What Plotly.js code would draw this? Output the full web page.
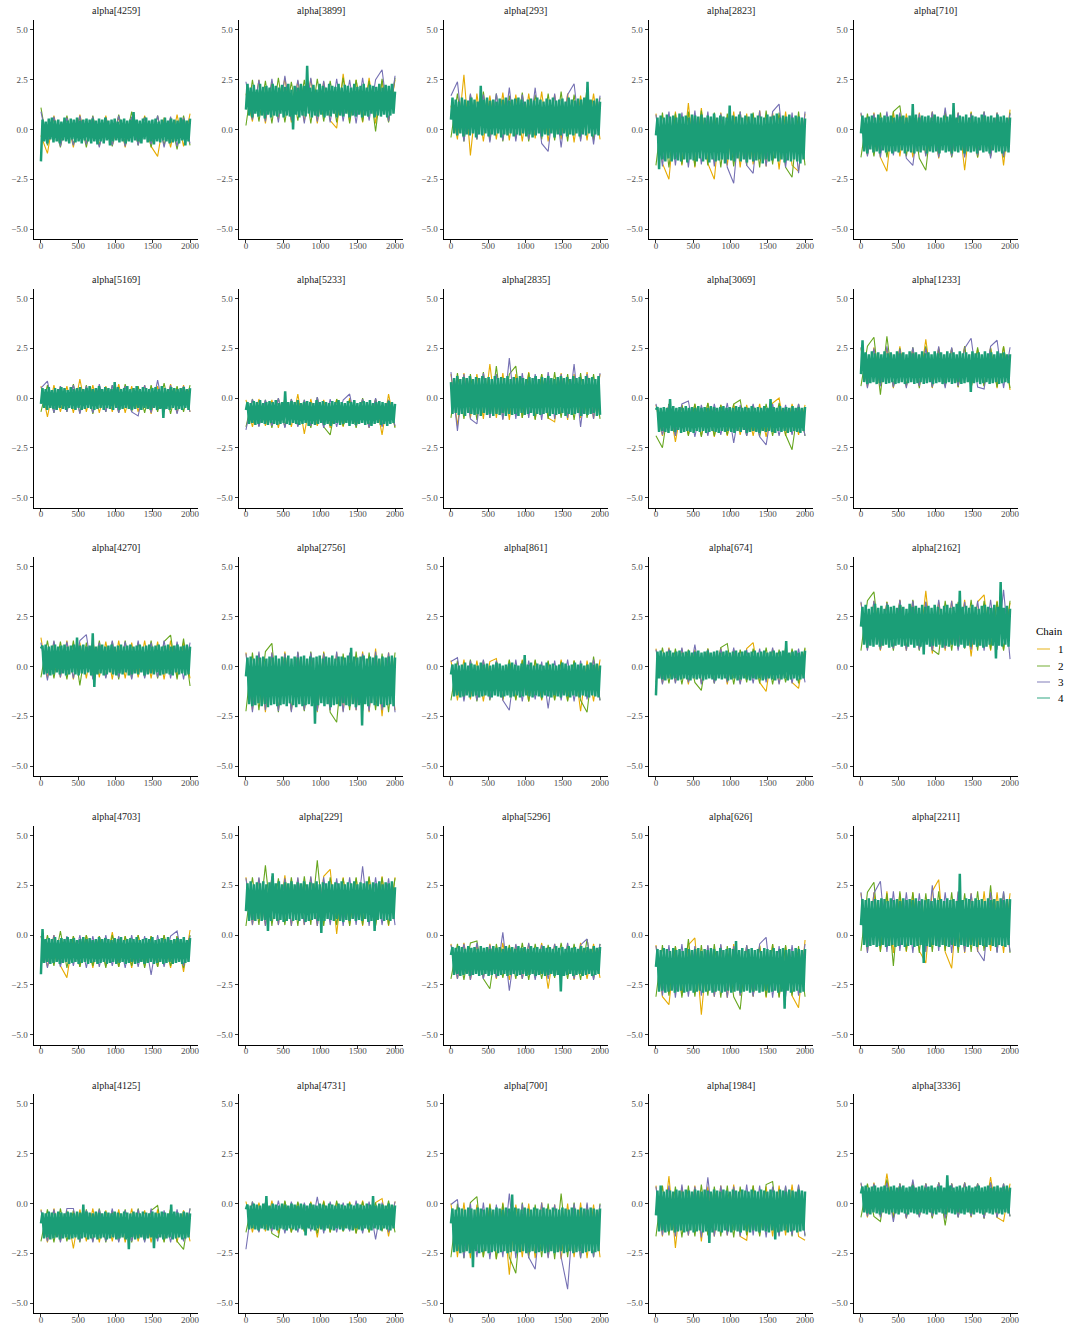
<!DOCTYPE html>
<html>
<head>
<meta charset="utf-8">
<script src="https://cdn.plot.ly/plotly-3.0.1.min.js"></script>
<style>
  html, body { margin: 0; padding: 0; background: #ffffff; }
  #chart { width: 1071px; height: 1325px; }
</style>
</head>
<body>
<div id="chart"></div>
<script>
// Trace plots of 25 alpha parameters, 4 chains of 2000 post-warmup iterations each.
const iterMax = 2000;
const chainLabels = ['1', '2', '3', '4'];
const chainColors = ['#E6AB02', '#66A61E', '#7570B3', '#1B9E77'];
const xTicks = [0, 500, 1000, 1500, 2000];
const yTicks = [-5, -2.5, 0, 2.5, 5];
const yTickText = ['\u22125.0', '\u22122.5', '0.0', '2.5', '5.0'];

const panelTitles = [
  'alpha[4259]', 'alpha[3899]', 'alpha[293]', 'alpha[2823]', 'alpha[710]',
  'alpha[5169]', 'alpha[5233]', 'alpha[2835]', 'alpha[3069]', 'alpha[1233]',
  'alpha[4270]', 'alpha[2756]', 'alpha[861]', 'alpha[674]', 'alpha[2162]',
  'alpha[4703]', 'alpha[229]', 'alpha[5296]', 'alpha[626]', 'alpha[2211]',
  'alpha[4125]', 'alpha[4731]', 'alpha[700]', 'alpha[1984]', 'alpha[3336]'
];

// Chain 1 draws, thinned, one row per panel
const chain1 = [
  [-0.3,-1.2,0.7,-0.8,0.6,-0.9,0.75,-0.7,0.6,-0.85,0.7,-0.8,0.65,-0.9,0.6,-0.75,0.7,-0.85,-1.35,0.6,-0.9,0.75,-0.85,0.8],
  [1.8,0.4,2.5,0.3,2.4,0.5,2.6,0.35,2.45,0.4,2.55,0.3,2.4,0.45,0.07,2.8,0.4,2.5,0.35,2.6,0.3,2.45,0.4,2.5],
  [1.2,-0.5,2.75,-1.3,1.8,-0.6,1.7,-0.5,1.85,-0.55,1.75,-0.6,1.8,-0.45,1.9,-0.6,1.75,-0.5,1.8,-0.65,1.7,-0.55,1.8,-0.5],
  [0.8,-1.7,-2.5,0.9,-1.8,1.33,-1.9,1.08,-1.7,-2.5,0.85,-1.8,0.9,-1.9,0.8,-1.75,0.95,-1.85,0.85,-2.0,0.9,-1.8,-2.1,0.8],
  [0.8,-1.3,0.85,-1.4,-2.1,0.9,-1.35,0.8,-1.4,0.85,-1.3,0.9,-1.45,0.8,-1.35,0.85,-2.05,0.9,-1.4,0.8,-1.35,0.85,-1.8,1.0],
  [0.6,-0.95,0.65,-0.7,0.6,-0.75,0.95,-0.7,0.65,-0.75,0.6,-0.7,0.7,-0.75,0.6,-0.7,0.65,-0.8,0.6,-0.7,0.7,-0.75,0.65,-0.7],
  [-0.1,-1.45,-0.05,-1.4,-0.1,-1.5,0.0,-1.45,0.2,-1.8,-0.05,-1.4,-0.1,-1.5,-0.05,-1.45,0.0,-1.4,-0.1,-1.5,-0.05,-1.85,0.2,-1.45],
  [1.2,-1.4,1.25,-1.0,1.2,-1.05,1.7,-1.0,1.25,-1.1,1.2,-1.0,1.3,-1.05,1.2,-1.0,-1.2,1.25,-1.1,1.2,-1.0,1.3,-1.05,1.2],
  [-0.35,-1.9,-0.3,-2.2,-0.35,-1.85,-0.3,-1.9,-0.25,-1.95,-0.35,-1.9,-0.3,-1.85,-0.35,-1.9,-0.3,-1.95,-0.25,0.0,-1.9,-0.3,-1.85,-0.35],
  [2.5,0.55,2.55,0.6,2.5,0.5,2.6,0.55,2.45,0.6,2.95,0.5,2.55,0.6,2.5,0.55,2.6,0.5,2.45,0.6,2.55,0.5,2.6,0.4],
  [1.45,-0.6,1.25,-0.55,1.3,-0.65,1.2,-0.6,1.3,-0.55,1.25,-0.65,1.3,-0.6,1.2,-0.55,1.3,-0.6,1.25,-0.65,1.3,-0.55,1.2,-0.6],
  [0.7,-2.2,0.65,-2.3,0.7,-2.15,0.75,-2.25,0.7,-2.2,0.65,-2.3,0.75,-2.2,0.7,-2.25,0.65,-2.2,0.75,-2.3,0.9,-2.5,0.7,-2.2],
  [0.3,-1.7,0.35,-1.65,0.3,-1.75,0.25,0.4,-1.7,0.3,-1.65,0.35,-1.75,0.3,-1.7,0.25,-1.65,0.35,-1.7,0.3,-2.25,0.3,-1.75,0.35],
  [0.9,-0.85,0.95,-0.8,0.9,-0.9,0.85,-0.85,0.9,-0.8,0.95,-0.9,0.85,-0.85,0.9,1.2,-0.8,-1.25,0.9,-0.85,0.95,-0.8,-1.1,0.9],
  [3.2,0.85,3.3,0.8,3.25,0.9,3.35,0.8,3.3,0.85,3.8,0.65,3.25,0.8,3.3,0.9,3.35,0.5,3.25,3.6,0.8,3.3,0.85,3.2],
  [-0.05,-1.6,0.0,-1.55,-2.14,-0.05,-1.6,0.0,-1.65,-0.05,-1.55,0.15,-1.6,-0.05,-1.65,0.0,-1.55,-0.05,-1.6,0.0,-1.65,-0.05,-1.85,0.25],
  [2.9,0.5,2.85,0.45,2.9,0.5,3.0,0.45,2.85,0.5,2.9,0.45,2.95,3.3,0.05,2.9,0.5,2.85,0.45,2.9,0.5,2.95,0.45,2.9],
  [-0.45,-2.2,-0.4,-2.25,-0.5,-2.15,-0.45,-2.2,-0.4,-2.25,-0.5,-2.2,-0.45,-2.15,-0.4,-2.7,-0.45,-2.2,-0.5,-2.25,-0.4,-2.2,-0.45,-2.15],
  [-0.5,-3.1,-3.5,-0.55,-3.05,-0.5,-0.15,-4.0,-0.55,-3.1,-0.5,-3.15,-0.45,-3.05,-0.55,-3.1,-0.5,-3.15,-0.45,-3.1,-0.55,-3.05,-3.65,-0.25],
  [2.1,-0.85,2.15,-0.8,2.2,-0.9,2.1,-0.85,2.15,-0.8,-1.4,2.2,2.78,-0.85,-1.67,2.15,-0.9,2.1,-0.85,2.2,-0.8,2.15,-0.9,2.1],
  [-0.3,-1.95,-0.25,-1.9,-0.35,-2.26,-0.3,-1.9,-0.25,-1.95,-0.35,-1.9,-0.3,-1.95,-0.25,-1.9,-0.35,-1.95,-0.3,-1.9,-0.25,-1.95,-0.35,-1.9],
  [0.1,-1.45,0.05,-1.4,0.15,-1.5,0.1,-1.45,0.05,-1.4,0.1,-1.7,0.15,-1.45,0.05,-1.4,0.1,-1.5,0.15,-1.45,0.05,0.25,-1.65,0.1],
  [0.0,-2.7,0.05,-2.75,-0.05,-2.7,0.0,-2.8,0.05,-3.57,-0.05,-2.7,0.0,-2.75,0.05,-2.7,-0.05,-2.8,0.0,-2.7,0.05,-2.75,-0.05,-2.7],
  [0.9,-1.65,1.38,-2.23,0.85,-1.6,0.9,-1.9,0.85,-1.65,0.9,-1.6,0.95,-1.65,-1.85,0.9,-1.6,0.85,-1.65,0.9,-1.6,0.95,-1.65,-1.85],
  [1.0,-0.7,1.05,-0.65,1.5,-0.7,1.0,-0.75,1.05,-0.65,1.0,-0.7,1.05,-0.75,1.0,-0.65,1.05,-0.7,1.0,-0.75,1.33,-0.7,-0.9,1.0]
];

// Chain 2 draws
const chain2 = [
  [1.1,-0.8,0.6,-0.9,0.7,-0.75,0.65,-0.9,0.7,-0.8,0.6,-0.85,0.75,-0.7,0.9,-0.8,0.65,-0.9,0.7,-0.8,0.6,-1.0,0.7,-0.8],
  [0.2,2.5,0.4,2.45,0.3,2.6,0.35,2.4,0.45,2.5,0.3,2.55,0.4,2.45,0.35,2.6,0.3,2.5,0.4,2.45,-0.1,2.55,0.35,2.6],
  [-0.4,1.8,-0.6,1.75,-0.5,1.9,-0.55,1.8,-0.6,1.7,-0.45,1.85,-0.6,1.75,-0.5,1.8,-0.55,1.9,-0.6,1.75,-0.5,2.1,-0.55,1.6],
  [-1.8,0.85,-1.9,0.8,-1.75,0.9,-1.85,0.95,-1.8,0.85,-1.9,0.8,-1.85,0.9,-1.8,0.85,-1.9,0.95,-1.75,0.85,-1.9,-2.4,0.9,-1.8],
  [-1.4,0.8,-1.35,0.85,-1.4,0.9,1.2,-1.35,0.8,-1.45,-2.05,0.85,-1.35,0.9,-1.4,0.8,-1.3,0.85,-1.4,0.9,-1.35,0.8,-1.4,0.85],
  [-0.7,0.65,-0.75,0.6,-0.7,0.7,-0.75,0.65,-0.8,0.6,-0.7,0.65,-0.75,0.7,-0.7,0.6,-0.75,0.65,-0.7,0.75,-0.8,0.6,-0.7,0.65],
  [-1.45,-0.05,-1.4,-0.1,-1.5,0.0,-1.45,-0.05,-1.4,-0.1,-1.5,0.05,-1.45,-1.85,-0.05,-1.4,-0.1,-1.5,0.0,-1.45,-0.05,-1.4,-0.1,-1.5],
  [-1.0,1.25,-1.05,1.2,-1.1,1.3,-1.0,1.6,-1.05,1.2,1.6,-1.0,1.25,-1.1,1.2,-1.05,1.3,-1.0,1.2,-1.1,1.25,-1.0,1.2,-1.05],
  [-1.9,-2.5,-0.3,-1.85,-0.35,-1.9,-0.3,-1.95,-0.25,-1.9,-0.35,-1.85,-0.3,-0.1,-1.9,-0.35,-1.95,-0.3,-1.9,-0.25,-1.85,-2.6,-0.3,-1.9],
  [0.6,2.6,3.05,0.17,3.1,0.55,2.5,0.6,2.55,0.5,2.6,0.55,2.45,0.6,2.5,0.55,2.6,0.5,2.55,0.6,2.5,0.55,2.6,0.5],
  [-0.55,1.3,-0.6,1.25,-0.65,1.3,-0.95,1.2,-0.6,1.3,-0.55,1.25,-0.65,1.3,-0.6,1.2,-0.55,1.3,-0.6,1.25,1.58,-0.65,1.4,-0.98],
  [-2.25,0.7,-2.2,0.75,1.16,-2.3,0.65,-2.2,0.7,-2.25,0.75,-2.2,0.7,-2.3,-2.8,0.65,-2.2,0.75,-2.25,0.7,-2.2,0.65,-2.3,0.7],
  [-1.7,0.3,-1.65,0.35,-1.75,0.3,-1.7,0.25,-1.65,0.35,-1.7,0.3,-1.75,0.35,-1.65,0.3,-1.7,0.25,-1.75,0.3,-1.7,-2.3,0.5,-1.7],
  [-0.8,0.95,-0.85,0.9,-0.9,0.85,-0.8,-1.2,0.9,-0.85,0.95,1.15,-0.9,0.85,-0.8,0.9,-0.85,0.95,-0.9,0.85,-0.8,0.9,-0.85,0.95],
  [0.8,3.3,3.75,0.85,3.25,0.8,3.3,0.9,3.35,0.8,3.25,0.85,0.6,3.3,0.8,3.25,0.9,3.35,0.8,3.3,0.85,3.25,0.8,3.3],
  [-1.6,0.0,-1.55,0.2,-1.65,-0.05,-1.6,0.0,-1.55,-0.05,-1.65,0.0,-1.6,-0.05,-1.55,0.0,-1.65,-0.05,-1.6,0.0,-1.55,-0.05,-1.65,0.0],
  [0.45,2.9,0.5,3.5,0.45,2.85,0.5,2.9,0.45,2.95,0.5,3.75,0.45,2.9,0.5,2.85,0.45,2.9,0.5,2.95,0.45,2.9,0.5,2.85],
  [-2.2,-0.45,-2.25,-0.4,-0.3,-2.2,-2.7,-0.45,-2.15,-0.5,-2.2,-0.4,-2.25,-0.45,-2.2,-0.5,-2.15,-0.4,-2.2,-0.45,-2.25,-0.2,-2.2,-0.45],
  [-3.1,-0.5,-3.05,-0.55,-3.15,-0.2,-3.1,-0.5,-3.05,-0.45,-3.15,-0.55,-3.1,-3.74,-0.5,-3.05,-0.55,-3.1,-0.45,-3.15,-0.5,-3.05,-0.55,-3.1],
  [-0.8,2.15,2.65,-0.85,2.1,-1.55,2.2,-0.8,2.15,-0.9,2.1,-0.85,2.2,-0.8,2.15,-0.9,2.1,-0.85,2.2,-0.8,2.5,-0.85,2.15,-0.9],
  [-1.9,-0.3,-1.95,-0.25,-1.9,-0.35,-1.95,-0.3,-1.9,-0.25,-1.95,-0.35,-1.9,-0.3,-1.95,-0.25,-1.9,-0.35,-0.1,-1.95,-0.3,-1.9,-2.3,-0.25],
  [-1.45,0.1,-1.4,0.05,-1.5,-1.7,0.15,-1.45,0.1,-1.4,0.05,-1.5,0.1,-1.45,0.15,-1.4,0.05,-1.5,0.1,-1.45,0.05,-1.4,0.15,-1.45],
  [-2.7,0.0,-2.75,0.05,0.35,-2.7,-0.05,-2.8,0.0,-2.7,-3.5,0.05,-2.75,-0.05,-2.7,0.0,-2.8,0.5,-2.7,0.05,-2.75,-0.05,-2.7,0.0],
  [-1.65,0.9,-1.6,0.85,-1.7,0.9,-1.65,0.95,-1.6,0.85,-1.65,0.9,-1.7,0.85,-1.6,0.9,-1.65,0.95,1.1,-1.6,0.85,-1.65,0.9,-1.6],
  [-0.7,1.0,-0.65,-0.9,1.2,-0.75,1.0,-0.7,1.05,-0.65,1.0,-0.75,1.05,-1.1,1.0,-0.7,1.05,-0.65,1.0,-0.75,1.05,-0.7,1.0,-0.65]
];

// Chain 3 draws
const chain3 = [
  [0.9,-0.7,0.65,-0.85,0.6,-0.8,0.7,-0.75,0.65,-0.9,0.6,-0.8,0.7,-0.85,0.65,-0.8,0.6,-0.75,0.7,-0.9,0.65,-0.85,0.6,-0.7],
  [2.4,0.5,2.5,0.4,2.55,0.35,2.7,0.45,2.5,0.3,2.6,0.4,2.45,0.35,2.55,0.4,2.5,0.3,2.6,0.45,2.5,3.0,0.4,2.7],
  [1.7,2.4,-0.6,1.8,-0.5,1.75,-0.65,1.8,-0.55,2.1,-0.6,1.75,-0.5,2.1,-0.7,-1.1,1.8,-0.9,1.75,2.3,-0.6,1.8,-0.75,1.7],
  [0.75,-1.85,0.9,-1.8,0.85,-1.9,0.95,-1.75,0.9,-1.85,0.8,-1.9,-2.7,0.9,-1.8,-2.2,0.95,-1.85,0.9,1.28,-1.9,0.85,-2.2,0.9],
  [0.85,-1.35,0.8,-1.4,0.9,-1.3,0.85,-1.45,-1.8,0.8,-1.35,0.9,-1.4,1.1,-1.35,0.85,-1.4,0.8,-1.3,0.9,-1.45,0.85,-1.35,0.8],
  [0.5,0.85,-0.75,0.6,-0.7,0.65,-0.8,0.6,-0.75,0.7,-0.7,0.65,-0.75,0.6,-0.7,-0.9,0.65,-0.75,0.9,-0.7,0.65,-0.8,0.6,-0.7],
  [-1.6,-0.05,-1.45,-0.1,-1.4,0.0,-1.5,-0.05,-1.45,-0.1,-1.4,0.05,-1.5,-0.05,-1.45,-0.1,0.2,-1.4,-0.05,-1.5,0.0,-1.45,-0.1,-1.4],
  [1.3,-1.65,1.2,-1.05,-1.3,1.25,-1.0,1.2,-1.1,2.0,-1.05,1.25,-1.0,1.2,-1.1,1.3,-1.05,1.2,-1.0,1.7,-1.45,1.2,-1.05,1.25],
  [-0.3,-1.85,-0.35,-1.9,-0.3,-0.15,-1.95,-0.35,-1.9,-0.3,-1.85,-0.25,-2.25,-0.35,-1.9,-0.3,-1.95,-2.35,-0.3,-1.9,-0.35,-1.85,-0.3,-1.9],
  [2.55,0.5,2.5,0.6,2.6,0.55,2.45,0.5,2.55,0.6,2.5,0.55,2.6,0.5,2.55,0.6,2.5,3.0,0.55,0.45,2.6,2.9,0.5,2.55],
  [1.2,-0.7,1.3,-0.55,1.25,-0.6,1.3,1.6,-0.65,1.2,-0.6,1.3,-0.55,1.25,-0.65,1.3,-0.6,1.2,-0.55,1.3,-0.6,1.25,-0.65,1.2],
  [0.65,-2.3,0.75,-2.2,0.7,-2.25,0.65,-2.3,0.75,-2.2,0.7,-2.25,0.65,-2.2,0.75,-2.3,0.7,-2.2,0.65,-2.25,0.75,-2.2,0.7,-2.3],
  [0.25,0.44,-1.75,0.3,-1.7,0.35,-1.65,0.3,-1.7,-2.2,0.35,-1.75,0.3,-1.65,0.25,-2.1,0.3,-1.7,0.35,-1.75,0.3,-1.65,0.35,-1.7],
  [0.85,-0.9,0.9,-0.85,0.95,-0.8,1.1,-0.9,0.85,-0.85,0.9,-0.8,0.95,-0.9,0.85,-0.85,0.9,-0.8,0.95,-0.9,0.85,-0.85,0.9,-0.8],
  [3.25,0.8,3.3,0.85,3.2,0.9,3.35,0.8,3.3,0.85,3.25,0.8,3.35,0.9,3.3,0.8,3.25,0.85,3.3,0.8,3.35,0.85,3.85,0.37],
  [-0.05,-1.65,0.0,-1.6,-0.05,-1.55,0.0,-1.65,-0.05,-1.6,0.0,-1.55,-0.05,-1.65,0.0,-1.6,-0.05,-2.0,0.0,-1.6,-0.05,0.2,-1.55,-0.05],
  [2.85,0.5,2.9,0.45,2.95,0.5,2.85,0.45,2.9,0.5,2.95,0.45,2.9,0.5,2.85,0.45,2.9,0.5,3.45,0.45,2.9,0.5,2.85,0.5],
  [-0.5,-2.2,-0.45,-2.25,-0.4,-2.2,-0.5,-2.15,0.13,-2.8,-0.45,-2.2,-0.4,-2.25,-0.5,-2.2,-0.45,-2.15,-0.4,-2.2,-0.5,-0.2,-2.25,-0.45],
  [-0.55,-3.05,-0.5,-3.15,-0.45,-3.1,-0.55,-3.05,-0.5,-3.1,-0.45,-3.15,-0.55,-3.05,-0.5,-3.1,-0.45,-0.12,-3.15,-0.55,-3.1,-0.5,-3.05,-0.45],
  [2.15,-0.9,2.1,2.7,-0.85,2.2,-0.8,2.15,-0.9,2.1,-0.85,2.5,-0.8,2.15,-0.9,2.2,-0.85,2.1,-0.8,-1.3,2.15,-0.9,2.2,-0.85],
  [-0.35,-1.9,-0.3,-1.95,-0.25,-0.25,-1.9,-0.35,-1.95,-0.3,-1.9,-0.25,-1.95,-0.35,-1.9,-0.3,-1.95,-0.25,-1.9,-0.35,-1.95,-0.3,-1.9,-0.25],
  [-2.3,0.1,-1.45,0.05,-1.4,0.15,-1.5,0.1,-1.45,0.05,-1.4,0.33,-1.5,0.1,-1.45,0.05,-1.4,0.15,-1.5,0.1,-1.8,0.05,-1.45,0.1],
  [-0.05,0.2,-2.75,0.0,-2.7,0.05,-2.8,-0.05,-2.7,0.5,-2.75,0.0,-2.7,-3.3,0.05,-2.75,-0.05,-2.7,-4.3,0.0,-2.75,0.05,-2.7,-0.05],
  [0.85,-1.6,0.9,-1.65,0.95,-1.6,0.85,-1.7,1.32,-1.65,0.9,-1.6,0.85,-1.65,0.95,-1.6,0.9,-1.7,0.85,-1.65,0.9,-1.6,0.95,-1.65],
  [1.05,-0.65,1.0,-0.7,1.05,-0.93,1.0,-0.75,1.2,-0.7,1.0,-0.65,1.05,-0.75,1.0,-0.7,1.05,-0.65,1.0,-0.75,1.05,-0.7,1.0,-0.65]
];

// Chain 4 draws (drawn last, on top)
const chain4 = [
  [-1.6,0.5,-0.6,0.4,-0.7,0.55,-0.5,0.6,-0.65,0.45,-0.6,0.5,-0.7,0.4,-0.55,0.6,-0.6,0.45,-0.7,0.55,-0.5,0.5,-0.65,0.6,-0.6,0.45,-0.7,0.5,-0.55,0.55,-0.6,0.5,-0.7,0.55,-0.6,0.45,-0.75,0.55,-0.6,0.5,-0.7,0.6,-0.55,0.45,-0.8,0.5,-0.6,0.55,-0.55,0.4,-0.65,0.5,-0.6,0.55,-0.7,0.45,-0.6,0.5,-0.65,0.88,-0.55,0.5,-0.6,0.45,-0.7,0.55,-0.5,0.6,-0.65,0.45,-0.6,0.5,-0.75,0.55,-0.6,0.4,-0.65,0.5,-0.55,0.6,-0.6,0.45,-0.7,0.55,-0.65,0.5,-0.6,0.45,-0.7,0.6,-0.55,0.5,-0.8,0.45,-0.6,0.55],
  [1.0,2.3,0.7,2.1,0.6,2.25,0.8,2.0,0.65,2.3,0.7,2.15,0.55,2.2,0.75,2.1,0.6,2.3,0.7,2.2,0.65,2.1,0.8,2.25,0.6,2.15,0.7,2.3,0.65,2.0,0.0,2.2,0.75,2.1,0.6,2.3,0.7,2.2,0.65,3.2,0.8,2.1,0.6,2.25,0.7,2.0,0.65,2.3,0.75,2.2,0.6,2.1,0.7,2.3,0.65,2.2,0.8,2.15,0.6,2.3,0.7,2.1,0.65,2.25,0.8,2.2,0.6,2.1,0.7,2.3,0.65,2.15,0.75,2.2,0.6,2.3,0.7,2.1,0.65,2.25,0.8,2.2,0.6,2.15,0.7,2.3,0.65,2.1,0.75,2.25,0.6,2.2,0.7,2.3,0.8,1.9],
  [0.5,1.6,-0.2,1.5,-0.3,1.4,-0.2,1.6,-0.35,1.5,-0.25,1.45,-0.3,1.6,-0.2,1.5,-0.4,1.4,-0.25,2.2,-0.3,1.5,-0.2,1.6,-0.35,1.45,-0.25,1.5,-0.3,1.4,-0.2,1.55,-0.4,1.5,-0.25,1.6,-0.3,1.45,-0.2,1.5,-0.35,1.55,-0.25,1.6,-0.3,1.5,-0.2,1.4,-0.35,1.5,-0.25,1.55,-0.4,1.45,-0.3,1.6,-0.2,1.5,-0.35,1.4,-0.25,1.55,-0.3,1.5,-0.2,1.6,-0.4,1.45,-0.25,1.5,-0.3,1.55,-0.2,1.4,-0.35,1.6,-0.25,1.5,-0.3,1.45,-0.2,1.55,-0.35,1.5,-0.25,1.6,-0.3,2.4,-0.2,1.5,-0.35,1.45,-0.25,1.55,-0.3,1.4],
  [-0.3,0.6,-2.0,0.7,-1.5,0.6,-1.6,0.75,-1.45,0.65,-1.6,0.7,-1.5,0.6,-1.55,0.8,-1.6,0.65,-1.5,0.7,-1.65,0.6,-1.5,0.75,-1.55,0.7,-1.6,0.65,-1.45,0.75,-1.6,0.6,-1.5,0.7,-1.65,0.65,-1.5,0.8,-1.6,0.6,-1.55,0.7,-1.5,0.65,-1.7,0.6,-1.5,1.2,-1.55,0.7,-1.6,0.65,-1.45,0.75,-1.6,0.6,-1.5,0.7,-1.65,0.65,-1.5,0.8,-1.6,0.6,-1.55,0.7,-1.5,0.65,-1.7,0.6,-1.5,0.75,-1.6,0.65,-1.55,0.7,-1.45,0.8,-1.6,0.6,-1.5,0.7,-1.65,0.65,-1.55,0.75,-1.6,0.6,-1.5,0.7,-1.6,0.65,-1.7,0.6,-1.5,0.55],
  [-0.2,0.7,-1.1,0.6,-1.2,0.65,-1.0,0.7,-1.15,0.6,-1.1,0.75,-1.2,0.6,-1.05,0.7,-1.15,0.65,-1.1,0.7,-1.2,0.6,-1.1,0.75,-1.15,0.65,-1.05,0.7,-1.2,0.6,-1.1,0.7,-1.15,1.28,-1.2,0.75,-1.1,0.6,-1.15,0.7,-1.05,0.65,-1.2,0.7,-1.1,0.6,-1.15,0.75,-1.1,0.65,-1.2,0.6,-1.05,0.7,-1.15,0.65,-1.1,0.75,-1.2,1.33,-1.1,0.6,-1.15,0.7,-1.05,0.65,-1.2,0.75,-1.1,0.6,-1.15,0.7,-1.1,0.65,-1.2,0.6,-1.05,0.75,-1.15,0.7,-1.1,0.65,-1.2,0.7,-1.05,0.6,-1.15,0.75,-1.1,0.65,-1.2,0.7,-1.1,0.6,-1.15,0.6],
  [-0.3,0.5,-0.5,0.45,-0.6,0.55,-0.5,0.4,-0.55,0.5,-0.6,0.45,-0.5,0.55,-0.55,0.5,-0.6,0.4,-0.5,0.55,-0.55,0.45,-0.6,0.5,-0.5,0.55,-0.6,0.45,-0.55,0.5,-0.5,0.6,-0.55,0.45,-0.6,0.5,-0.55,0.6,-0.5,0.45,-0.6,0.55,-0.5,0.5,-0.55,0.45,-0.6,0.8,-0.5,0.55,-0.6,0.45,-0.55,0.5,-0.5,0.6,-0.55,0.45,-0.6,0.5,-0.55,0.6,-0.5,0.45,-0.6,0.55,-0.5,0.5,-0.55,0.45,-0.6,0.5,-0.5,0.55,-0.6,0.45,-0.55,0.6,-1.0,0.5,-0.55,0.45,-0.6,0.55,-0.5,0.5,-0.6,0.45,-0.55,0.5,-0.6,0.55,-0.5,0.45,-0.6,0.5],
  [-0.6,-0.2,-1.3,-0.25,-1.25,-0.15,-1.35,-0.2,-1.3,-0.1,-1.25,-0.25,-1.3,-0.2,-1.35,-0.15,-1.25,-0.2,-1.3,-0.1,-1.35,-0.25,-1.3,-0.2,-1.25,0.34,-1.3,-0.2,-1.35,-0.15,-1.25,-0.2,-1.3,-0.1,-1.35,-0.25,-1.3,-0.2,-1.25,-0.15,-1.4,-0.2,-1.3,-0.25,-1.35,-0.1,-1.3,-0.2,-1.25,-0.15,-1.35,-0.2,-1.3,-0.25,-1.4,-0.15,-1.3,-0.2,-1.25,-0.1,-1.35,-0.2,-1.3,-0.25,-1.25,-0.15,-1.4,-0.2,-1.3,-0.1,-1.35,-0.25,-1.3,-0.2,-1.25,-0.15,-1.35,-0.2,-1.3,-0.1,-1.4,-0.25,-1.3,-0.2,-1.25,-0.15,-1.35,-0.2,-1.3,-0.25,-1.4,-0.15,-1.3,-0.2,-1.25,-0.3],
  [0.8,-0.8,1.0,-0.75,1.1,-0.85,0.95,-0.8,1.05,-0.9,1.0,-0.75,1.1,-0.8,0.95,-0.85,1.05,-0.8,1.0,-0.9,1.1,-0.75,1.0,-0.85,1.05,-0.8,0.95,-0.9,1.1,-0.8,1.0,-0.85,1.05,-0.75,1.0,-0.9,1.1,-0.8,0.95,-0.85,1.05,-0.8,1.0,-0.9,1.1,-0.75,1.0,-0.85,0.95,-0.8,1.05,-0.75,1.0,-0.9,1.1,-0.8,0.95,-0.85,1.05,-0.8,1.0,-0.75,1.1,-0.9,1.0,-0.8,0.95,-0.85,1.05,-0.8,1.1,-0.75,1.0,-0.9,1.05,-0.8,0.95,-0.85,1.1,-0.8,1.0,-0.75,1.05,-0.9,0.95,-0.8,1.1,-0.85,1.0,-0.8,1.05,-0.75,0.95,-0.9,1.1,-0.85],
  [-0.6,-0.45,-1.7,-0.5,-1.65,-0.45,-1.7,-0.5,-1.75,-0.05,-1.65,-0.4,-1.7,-0.5,-1.6,-0.45,-1.75,-0.5,-1.7,-0.4,-1.65,-0.5,-1.7,-0.45,-1.75,-0.5,-1.65,-0.4,-1.7,-0.5,-1.65,-0.45,-1.75,-0.5,-1.7,-0.4,-1.65,-0.45,-1.7,-0.5,-1.75,-0.45,-1.65,-0.4,-1.7,-0.5,-1.65,-0.45,-1.7,-0.5,-1.75,-0.4,-1.65,-0.45,-1.7,-0.5,-1.6,-0.45,-1.75,-0.5,-1.7,-0.4,-1.65,-0.5,-1.7,-0.45,-1.75,-0.5,-1.65,-0.4,-1.7,-0.5,-1.65,-0.05,-1.7,-0.45,-1.75,-0.5,-1.65,-0.4,-1.7,-0.5,-1.65,-0.45,-1.75,-0.5,-1.7,-0.4,-1.65,-0.5,-1.7,-0.45,-1.75,-0.5,-1.65,-0.45],
  [1.2,2.9,0.8,2.3,0.7,2.2,0.75,2.35,0.8,2.25,0.7,2.3,0.75,2.2,0.8,2.35,0.7,2.25,0.75,2.3,0.8,2.2,0.7,2.35,0.75,2.25,0.8,2.3,0.7,2.2,0.75,2.35,0.8,2.25,0.7,2.3,0.75,2.2,0.8,2.35,0.7,2.25,0.75,2.3,0.8,2.2,0.7,2.35,0.75,2.25,0.8,2.3,0.7,2.2,0.75,2.35,0.8,2.25,0.7,2.3,0.75,2.2,0.8,2.35,0.7,2.25,0.75,2.3,0.8,2.2,0.3,2.35,0.75,2.25,0.8,2.3,0.7,2.2,0.75,2.35,0.8,2.25,0.7,2.3,0.75,2.2,0.8,2.35,0.7,2.25,0.75,2.3,0.8,2.2,0.75,2.2],
  [0.9,1.05,-0.4,1.1,-0.35,1.0,-0.45,1.05,-0.4,1.1,-0.3,1.0,-0.4,1.05,-0.35,1.1,-0.45,1.0,-0.4,1.05,-0.3,1.1,-0.4,1.45,-0.45,1.05,-0.35,1.1,-0.4,1.0,-0.3,1.05,-0.45,1.67,-1.03,1.0,-0.4,1.05,-0.35,1.1,-0.45,1.0,-0.4,1.05,-0.3,1.1,-0.4,1.0,-0.45,1.05,-0.35,1.1,-0.4,1.0,-0.3,1.05,-0.45,1.1,-0.4,1.0,-0.35,1.05,-0.4,1.1,-0.3,1.0,-0.45,1.05,-0.4,1.1,-0.35,1.0,-0.4,1.05,-0.3,1.1,-0.45,1.0,-0.4,1.05,-0.35,1.1,-0.4,1.0,-0.45,1.05,-0.3,1.1,-0.4,1.0,-0.35,1.05,-0.45,1.1,-0.4,1.0],
  [-0.5,0.45,-1.9,0.5,-2.0,0.4,-1.95,0.55,-1.85,0.45,-2.0,0.5,-1.9,0.4,-2.05,0.5,-1.95,0.45,-1.9,0.55,-2.0,0.4,-1.95,0.5,-1.9,0.45,-2.0,0.55,-1.85,0.4,-1.95,0.5,-2.05,0.45,-1.9,0.5,-2.0,0.55,-1.95,0.4,-1.9,0.5,-2.0,0.45,-2.88,0.5,-1.95,0.55,-1.85,0.4,-2.0,0.5,-1.9,0.45,-2.05,0.55,-1.95,0.4,-1.9,0.5,-2.0,0.5,-1.85,0.45,-1.95,0.55,-2.0,0.94,-1.9,0.5,-2.05,0.45,-1.95,0.5,-2.96,0.55,-1.9,0.4,-2.0,0.5,-1.85,0.45,-1.95,0.55,-2.0,0.4,-1.9,0.5,-2.05,0.45,-1.95,0.5,-1.9,0.55,-2.0,0.45],
  [-0.4,0.1,-1.5,0.15,-1.45,0.05,-1.55,0.1,-1.5,0.2,-1.45,0.05,-1.55,0.15,-1.5,0.1,-1.45,0.05,-1.55,0.2,-1.5,0.1,-1.45,0.15,-1.5,0.05,-1.55,0.1,-1.45,0.2,-1.5,0.15,-1.55,0.05,-1.5,0.1,-1.45,0.15,-1.55,0.2,-1.5,0.1,-1.45,0.05,-1.55,0.15,-1.5,0.57,-1.45,0.1,-1.5,0.2,-1.55,0.05,-1.45,0.15,-1.5,0.1,-1.55,0.05,-1.45,0.2,-1.5,0.1,-1.55,0.15,-1.45,0.05,-1.5,0.1,-1.55,0.2,-1.45,0.15,-1.5,0.05,-1.55,0.1,-1.45,0.2,-1.5,0.1,-1.55,0.15,-1.45,0.05,-1.5,0.1,-1.55,0.2,-1.45,0.1,-1.5,0.15,-1.55,0.05],
  [-1.45,0.75,-0.6,0.8,-0.65,0.7,-0.7,0.75,-0.6,0.8,-0.65,0.7,-0.6,0.75,-0.7,0.8,-0.65,0.7,-0.6,0.75,-0.65,0.8,-0.7,0.7,-0.6,0.75,-0.65,0.8,-0.6,0.7,-0.7,0.75,-0.65,0.8,-0.6,0.7,-0.65,0.75,-0.7,0.8,-0.6,0.7,-0.65,0.75,-0.6,0.8,-0.7,0.7,-0.65,0.75,-0.6,0.8,-0.7,0.7,-0.65,0.75,-0.6,0.8,-0.65,0.7,-0.7,0.75,-0.6,0.8,-0.65,0.7,-0.6,0.75,-0.7,0.8,-0.65,0.7,-0.6,0.75,-0.65,0.8,-0.7,0.7,-0.6,0.75,-0.65,0.8,-0.6,1.28,-0.7,0.7,-0.65,0.75,-0.6,0.8,-0.7,0.7,-0.65,0.75,-0.6,0.8],
  [2.0,3.0,1.1,3.1,0.95,2.9,1.05,3.0,1.0,3.15,1.1,2.95,1.0,3.05,1.05,2.9,1.1,3.1,0.95,3.0,1.0,3.05,1.05,2.95,1.1,3.1,1.0,3.0,1.05,2.9,1.0,3.15,1.1,3.0,0.95,3.05,1.05,2.95,1.0,3.1,0.6,3.0,1.1,3.05,1.0,2.95,1.05,3.1,1.0,3.0,1.1,2.9,0.95,3.05,1.05,3.1,1.0,2.95,1.1,3.0,1.05,3.15,1.0,3.8,1.1,3.0,0.95,3.05,1.05,2.95,1.0,3.1,1.1,3.0,1.0,2.9,1.05,3.05,0.95,3.1,1.0,3.0,1.1,2.95,1.05,3.1,0.4,3.0,1.05,4.24,1.0,2.95,1.1,3.05,1.0,2.9],
  [-1.97,0.3,-1.4,-0.2,-1.35,-0.15,-1.45,-0.2,-1.4,-0.1,-1.35,-0.25,-1.45,-0.15,-1.4,-0.2,-1.35,-0.1,-1.45,-0.2,-1.4,-0.15,-1.35,-0.25,-1.45,-0.2,-1.4,-0.1,-1.35,-0.2,-1.45,-0.15,-1.4,-0.25,-1.35,-0.2,-1.45,-0.1,-1.4,-0.2,-1.35,-0.15,-1.45,-0.2,-1.4,-0.25,-1.35,-0.15,-1.45,-0.2,-1.4,-0.1,-1.35,-0.25,-1.45,-0.2,-1.4,-0.15,-1.35,-0.2,-1.45,-0.1,-1.4,-0.25,-1.35,-0.2,-1.45,-0.15,-1.4,-0.2,-1.35,-0.1,-1.45,-0.25,-1.4,-0.2,-1.35,-0.15,-1.45,-0.2,-1.4,-0.1,-1.35,-0.25,-1.45,-0.2,-1.4,-0.15,-1.35,-0.2,-1.45,-0.1,-1.4,-0.25,-1.35,-0.15],
  [1.2,2.6,0.7,2.7,0.75,2.55,0.7,2.65,0.8,2.6,0.7,2.7,0.75,2.55,0.2,2.65,0.7,3.1,0.8,2.6,0.7,2.7,0.75,2.55,0.65,2.65,0.7,2.6,0.8,2.7,0.7,2.55,0.75,2.65,0.7,2.6,0.8,2.7,0.65,2.55,0.7,2.65,0.75,2.6,0.8,2.7,0.7,2.55,0.1,2.65,0.7,2.6,0.8,2.7,0.75,2.55,0.7,2.65,0.8,2.6,0.7,2.7,0.65,2.55,0.75,2.65,0.7,2.6,0.8,2.7,0.7,2.55,0.75,2.65,0.7,2.6,0.8,2.7,0.65,2.55,0.7,2.65,0.2,2.6,0.75,2.7,0.8,2.55,0.7,2.65,0.75,2.6,0.7,2.7,0.8,2.4],
  [-1.0,-0.6,-2.0,-0.65,-1.95,-0.55,-2.05,-0.6,-2.0,-0.7,-1.95,-0.55,-2.05,-0.65,-2.0,-0.6,-1.95,-0.7,-2.05,-0.55,-2.0,-0.65,-1.95,-0.6,-2.05,-0.7,-2.0,-0.55,-1.95,-0.65,-2.05,-0.6,-2.0,-0.7,-1.95,-0.55,-2.05,-0.65,-2.0,-0.6,-1.95,-0.7,-2.05,-0.55,-2.0,-0.65,-1.95,-0.6,-2.05,-0.7,-2.0,-0.55,-1.95,-0.65,-2.05,-0.6,-2.0,-0.7,-1.95,-0.55,-2.05,-0.65,-2.0,-0.6,-1.95,-0.7,-2.05,-0.55,-2.0,-0.65,-2.83,-0.6,-2.05,-0.7,-2.0,-0.55,-1.95,-0.65,-2.05,-0.6,-2.0,-0.7,-1.95,-0.55,-2.05,-0.65,-2.0,-0.6,-1.95,-0.7,-2.05,-0.55,-2.0,-0.65,-1.95,-0.6],
  [-1.6,-0.7,-2.85,-0.75,-2.8,-0.65,-2.9,-0.7,-2.85,-0.8,-2.8,-0.65,-2.9,-0.75,-2.85,-0.7,-2.8,-0.8,-2.9,-0.65,-2.85,-0.7,-2.8,-0.75,-2.9,-0.7,-2.85,-0.65,-2.8,-0.8,-2.9,-0.7,-2.85,-0.75,-2.8,-0.65,-2.9,-0.7,-2.85,-0.8,-2.8,-0.65,-2.9,-0.75,-2.85,-0.7,-2.8,-0.65,-2.9,-0.7,-2.85,-0.3,-2.8,-0.75,-2.9,-0.65,-2.85,-0.8,-2.8,-0.7,-2.9,-0.65,-2.85,-0.75,-2.8,-0.7,-2.9,-0.8,-2.85,-0.65,-2.8,-0.7,-2.9,-0.75,-2.85,-0.65,-2.8,-0.8,-2.9,-0.7,-2.85,-0.65,-3.7,-0.75,-2.8,-0.7,-2.9,-0.8,-2.85,-0.65,-2.8,-0.7,-2.9,-0.75,-2.85,-0.7],
  [0.5,1.8,-0.5,1.75,-0.6,1.85,-0.55,1.7,-0.5,1.8,-0.6,1.75,-0.55,1.85,-0.5,1.8,-0.6,1.7,-0.55,1.85,-0.5,1.75,-0.6,1.8,-0.55,1.7,-0.5,1.85,-0.6,1.75,-0.55,1.8,-0.5,1.75,-0.6,1.85,-0.55,1.7,-0.5,1.8,-1.4,1.75,-0.55,1.8,-0.6,1.7,-0.5,1.85,-0.55,1.75,-0.6,1.8,-0.5,1.7,-0.55,1.85,-0.6,1.75,-0.5,1.8,-0.55,1.7,-0.6,3.08,-0.5,1.75,-0.55,1.85,-0.6,1.8,-0.5,1.7,-0.55,1.85,-0.6,1.75,-0.5,1.8,-0.55,1.7,-0.6,1.85,-0.5,1.75,-0.55,1.8,-0.6,1.7,-0.5,1.85,-0.55,1.75,-0.6,1.8,-0.5,1.8],
  [-1.0,-0.45,-1.75,-0.5,-1.7,-0.4,-1.8,-0.45,-1.75,-0.5,-1.7,-0.4,-1.8,-0.45,-1.75,-0.5,-1.7,-0.4,-1.8,-0.45,-1.75,-0.5,-1.7,-0.4,-1.8,-0.45,-1.75,-0.05,-1.7,-0.4,-1.8,-0.45,-1.75,-0.5,-1.7,-0.4,-1.8,-0.45,-1.75,-0.5,-1.7,-0.4,-1.8,-0.45,-1.75,-0.5,-1.7,-0.4,-1.8,-0.45,-1.75,-0.5,-1.7,-0.4,-1.8,-0.45,-2.3,-0.5,-1.7,-0.4,-1.8,-0.45,-1.75,-0.5,-1.7,-0.4,-1.8,-0.45,-1.75,-0.5,-1.7,-0.4,-2.25,-0.45,-1.75,-0.5,-1.7,-0.4,-1.8,-0.45,-1.75,-0.5,-1.7,-0.05,-1.8,-0.4,-1.75,-0.45,-1.7,-0.5,-1.8,-0.4,-1.75,-0.45,-1.7,-0.5],
  [-0.3,-0.05,-1.3,-0.1,-1.25,0.0,-1.3,-0.05,-1.35,-0.1,-1.25,0.0,-1.3,0.37,-1.35,-0.1,-1.25,0.0,-1.3,-0.05,-1.35,-0.1,-1.25,0.0,-1.3,-0.05,-1.35,-0.1,-1.25,0.0,-1.3,-0.05,-1.35,-0.1,-1.25,0.0,-1.3,-0.05,-1.6,-0.1,-1.25,0.0,-1.3,-0.05,-1.35,-0.1,-1.25,0.0,-1.3,-0.05,-1.35,-0.1,-1.25,0.0,-1.3,-0.05,-1.35,-0.1,-1.25,0.0,-1.3,-0.05,-1.35,-0.1,-1.25,0.0,-1.3,-0.05,-1.35,-0.1,-1.25,0.0,-1.3,-0.05,-1.35,-0.1,-1.25,0.0,-1.3,-0.05,-1.35,0.37,-1.25,-0.1,-1.3,0.0,-1.35,-0.05,-1.25,-0.1,-1.3,0.0,-1.35,-0.05,-1.25,-0.1],
  [-1.0,-0.25,-2.45,-0.3,-2.4,-0.2,-2.5,-0.25,-2.45,-0.3,-2.4,-0.2,-2.5,-0.25,-3.2,-0.3,-2.4,-0.2,-2.5,-0.25,-2.45,-0.3,-2.4,-0.2,-2.5,-0.25,-2.45,-0.3,-2.4,-0.2,-2.5,-0.25,-2.45,-0.3,-2.4,-0.2,-2.5,-0.25,-2.45,0.45,-2.4,-0.2,-2.5,-0.25,-2.45,-0.3,-2.4,-0.2,-2.5,-0.25,-2.45,-0.3,-2.4,-0.2,-2.5,-0.25,-2.45,-0.3,-2.4,-0.2,-2.5,-0.25,-2.45,-0.3,-2.4,-0.2,-2.5,-0.25,-2.45,-0.3,-2.4,-0.2,-2.5,-0.25,-2.45,-0.3,-2.4,-0.2,-2.5,-0.25,-2.45,-0.3,-2.4,-0.2,-2.5,-0.25,-2.45,-0.3,-2.4,-0.2,-2.5,-0.25,-2.45,-0.3,-2.4,-0.25],
  [-0.6,0.65,-1.4,0.9,-1.35,0.6,-1.45,0.7,-1.4,0.65,-1.35,0.6,-1.45,0.7,-1.4,0.65,-1.35,0.6,-1.45,0.7,-1.4,0.65,-1.35,0.6,-1.45,0.7,-1.4,0.65,-1.35,0.6,-1.45,0.7,-1.4,0.65,-1.98,0.6,-1.45,0.7,-1.35,0.65,-1.4,0.6,-1.45,0.7,-1.35,0.65,-1.4,0.6,-1.45,0.7,-1.35,0.65,-1.4,0.6,-1.45,0.7,-1.35,0.65,-1.4,0.6,-1.45,0.7,-1.35,0.65,-1.4,0.6,-1.45,0.7,-1.35,0.65,-1.4,0.6,-1.45,0.7,-1.35,0.65,-1.8,0.6,-1.45,0.7,-1.4,0.65,-1.35,0.6,-1.45,0.7,-1.4,0.65,-1.35,0.6,-1.45,0.7,-1.4,0.65,-1.35,0.6],
  [0.5,0.85,-0.45,0.9,-0.5,0.8,-0.55,0.85,-0.45,0.9,-0.5,0.8,-0.55,0.85,-0.45,0.9,-0.5,0.8,-0.55,0.85,-0.45,0.9,-0.5,0.8,-0.55,0.85,-0.45,0.9,-0.5,0.8,-0.55,0.85,-0.45,0.9,-0.5,0.8,-0.55,0.85,-0.45,0.9,-0.5,0.8,-0.55,0.85,-0.45,0.9,-0.5,0.8,-0.55,0.85,-0.45,0.9,-0.5,0.8,-0.55,1.42,-0.45,0.9,-0.5,0.8,-0.55,0.85,-0.45,0.9,-0.5,0.8,-0.55,0.85,-0.45,0.9,-0.5,0.8,-0.55,0.85,-0.45,0.9,-0.5,0.8,-0.55,0.85,-0.45,0.9,-0.5,0.8,-0.55,0.85,-0.45,0.9,-0.5,0.8,-0.55,0.85,-0.45,0.9,-0.5,0.8]
];

const chains = [chain1, chain2, chain3, chain4];
// Stroke widths per chain; chain 4 sits on top and covers the core of the band
const chainWidths = [1.1, 1.1, 1.1, 2.5];

// Page geometry (pixels)
const W = 1071, H = 1325;
const nCols = 5;
const colStep = 205, rowStep = 268.5;
const panelLeft = 33.5, panelRight = 197.5, panelTop = 20, panelBottom = 239;

const serif = 'Liberation Serif, Times New Roman, serif';
const tickFont = { family: serif, size: 9, color: '#4D4D4D' };

const traces = [];
const layout = {
  width: W, height: H,
  margin: { l: 0, r: 0, t: 0, b: 0 },
  paper_bgcolor: '#ffffff', plot_bgcolor: '#ffffff',
  showlegend: false,
  annotations: [],
  shapes: []
};

panelTitles.forEach((title, p) => {
  const r = Math.floor(p / nCols), c = p % nCols;
  const suffix = p === 0 ? '' : String(p + 1);
  const x0 = panelLeft + colStep * c, x1 = panelRight + colStep * c;
  const y0 = panelTop + rowStep * r, y1 = panelBottom + rowStep * r;

  chains.forEach((chain, k) => {
    const draws = chain[p];
    const iters = draws.map((_, i) => Math.round(i * iterMax / (draws.length - 1)));
    traces.push({
      type: 'scatter', mode: 'lines',
      x: iters, y: draws,
      xaxis: 'x' + suffix, yaxis: 'y' + suffix,
      name: chainLabels[k],
      line: { color: chainColors[k], width: chainWidths[k] },
      hoverinfo: 'skip'
    });
  });

  layout['xaxis' + suffix] = {
    domain: [x0 / W, x1 / W], anchor: 'y' + suffix,
    range: [-100, 2100], fixedrange: true,
    tickvals: xTicks, ticktext: xTicks.map(String),
    showline: true, linecolor: '#000000', linewidth: 1,
    ticks: 'outside', ticklen: 3, tickwidth: 1, tickcolor: '#333333',
    ticklabelstandoff: -5,
    tickfont: tickFont, showgrid: false, zeroline: false
  };
  layout['yaxis' + suffix] = {
    domain: [1 - y1 / H, 1 - y0 / H], anchor: 'x' + suffix,
    range: [-5.5, 5.5], fixedrange: true,
    tickvals: yTicks, ticktext: yTickText,
    showline: true, linecolor: '#000000', linewidth: 1,
    ticks: 'outside', ticklen: 3, tickwidth: 1, tickcolor: '#333333',
    tickfont: tickFont, showgrid: false, zeroline: false
  };

  layout.annotations.push({
    text: title, xref: 'paper', yref: 'paper',
    x: (x0 + x1) / 2 / W, y: 1 - (y0 - 9) / H,
    xanchor: 'center', yanchor: 'middle', showarrow: false,
    font: { family: serif, size: 10, color: '#1A1A1A' }
  });
});

// Chain legend on the right
const legendTitleY = 631, legendRowY = [649, 666, 682, 698];
layout.annotations.push({
  text: 'Chain', xref: 'paper', yref: 'paper',
  x: 1034 / W, y: 1 - legendTitleY / H, xanchor: 'left', yanchor: 'middle',
  showarrow: false, font: { family: serif, size: 11, color: '#000000' }
});
chainLabels.forEach((lab, k) => {
  const yy = 1 - legendRowY[k] / H;
  layout.shapes.push({
    type: 'line', xref: 'paper', yref: 'paper',
    x0: 1037 / W, x1: 1050 / W, y0: yy, y1: yy,
    line: { color: chainColors[k], width: 1.5 }, opacity: 0.6
  });
  layout.annotations.push({
    text: lab, xref: 'paper', yref: 'paper',
    x: 1056 / W, y: yy, xanchor: 'left', yanchor: 'middle',
    showarrow: false, font: { family: serif, size: 11, color: '#000000' }
  });
});

Plotly.newPlot('chart', traces, layout, { staticPlot: true, displayModeBar: false });
</script>
</body>
</html>
